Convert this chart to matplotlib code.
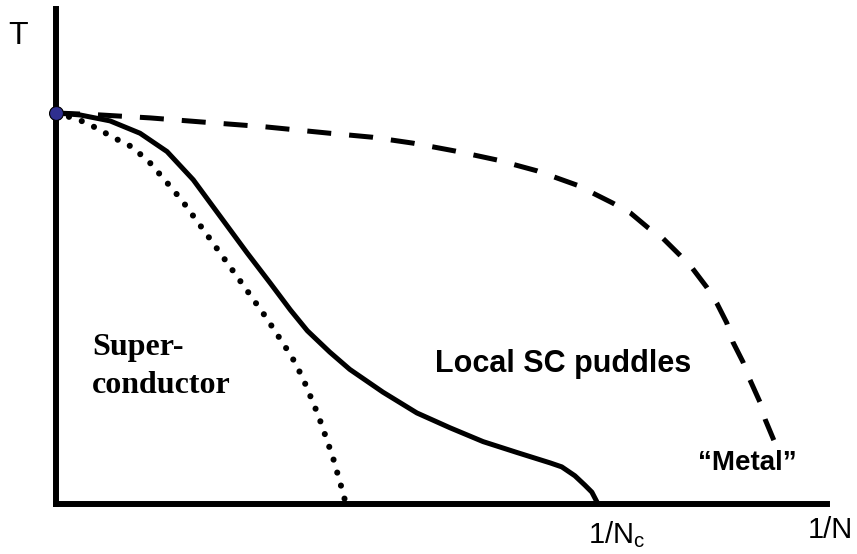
import matplotlib
matplotlib.use("Agg")
import matplotlib.pyplot as plt

plt.rcParams['font.family'] = ['Liberation Sans', 'DejaVu Sans']
plt.rcParams['mathtext.fontset'] = 'custom'
plt.rcParams['mathtext.rm'] = 'Liberation Sans'

# 1/N (x) and T (y), axes go 0..1
dash_x = [0.0, 0.057, 0.122, 0.187, 0.271, 0.355, 0.410, 0.463, 0.518, 0.572,
          0.624, 0.676, 0.722, 0.745, 0.768, 0.787, 0.809, 0.825, 0.844, 0.857,
          0.870, 0.878, 0.891, 0.900, 0.913, 0.920, 0.931]
dash_t = [0.790, 0.786, 0.780, 0.772, 0.762, 0.749, 0.741, 0.729, 0.713, 0.695,
          0.673, 0.644, 0.608, 0.588, 0.558, 0.537, 0.503, 0.477, 0.438, 0.406,
          0.366, 0.327, 0.287, 0.251, 0.206, 0.170, 0.129]

solid_x = [0.0, 0.031, 0.070, 0.109, 0.144, 0.178, 0.204, 0.248, 0.278, 0.304, 0.326,
           0.355, 0.381, 0.424, 0.468, 0.511, 0.554, 0.598, 0.641, 0.656, 0.673,
           0.686, 0.695, 0.703]
solid_t = [0.790, 0.786, 0.774, 0.749, 0.712, 0.655, 0.600, 0.507, 0.446, 0.392, 0.350,
           0.307, 0.272, 0.226, 0.184, 0.154, 0.126, 0.104, 0.083, 0.075, 0.057,
           0.038, 0.024, 0.0]

dot_x = [0.0, 0.030, 0.044, 0.057, 0.071, 0.099, 0.122, 0.143, 0.163, 0.200,
         0.236, 0.272, 0.306, 0.320, 0.340, 0.359, 0.372, 0.376]
dot_t = [0.790, 0.776, 0.766, 0.756, 0.743, 0.721, 0.689, 0.651, 0.614, 0.535,
         0.457, 0.378, 0.297, 0.255, 0.180, 0.095, 0.024, 0.0]

tc_x = [0.0]
tc_t = [0.790]

W, H = 857, 554
fig = plt.figure(figsize=(W / 100, H / 100), dpi=100)
ax = fig.add_axes([56 / W, (H - 504) / H, (827 - 56) / W, (504 - 9) / H])
ax.set_xlim(0, 1)
ax.set_ylim(0, 1)

for s in ['top', 'right']:
    ax.spines[s].set_visible(False)
for s in ['left', 'bottom']:
    ax.spines[s].set_linewidth(4.3)
    ax.spines[s].set_capstyle('projecting')
ax.set_xticks([])
ax.set_yticks([])

ax.plot(dash_x, dash_t, color='black', lw=3.6, dashes=(4.8, 3.6),
        dash_capstyle='butt', dash_joinstyle='round', clip_on=False)
ax.plot(solid_x, solid_t, color='black', lw=3.6, solid_capstyle='butt',
        solid_joinstyle='round', clip_on=False)
ax.plot(dot_x, dot_t, color='black', lw=4.4, dashes=(0.01, 2.2),
        dash_capstyle='round', clip_on=False)
ax.plot(tc_x, tc_t, 'o', color='#2f2f8f', markersize=10, markeredgecolor='black',
        markeredgewidth=0.8, clip_on=False, zorder=5)

ax.text(-0.049, 0.929, 'T', fontsize=23, ha='center', va='baseline')
ax.text(0.975, -0.069, '1/N', fontsize=21, ha='left', va='baseline')
ax.text(0.690, -0.079, r'1/N$_\mathregular{c}$', fontsize=21, ha='left', va='baseline')
ax.text(0.492, 0.267, 'Local SC puddles', fontsize=22, fontweight='bold',
        ha='left', va='baseline')
ax.text(0.833, 0.069, '\u201cMetal\u201d', fontsize=20, fontweight='bold',
        ha='left', va='baseline')
ax.text(0.047, 0.301, 'Super-', fontsize=23, fontweight='bold',
        family='Liberation Serif', ha='left', va='baseline')
ax.text(0.047, 0.224, 'conductor', fontsize=23, fontweight='bold',
        family='Liberation Serif', ha='left', va='baseline')

fig.savefig('out.png', dpi=100)
